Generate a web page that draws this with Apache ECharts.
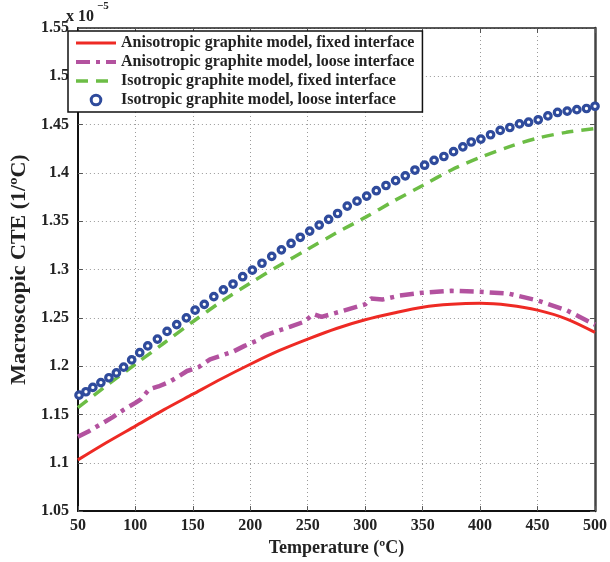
<!DOCTYPE html>
<html><head><meta charset="utf-8">
<script src="https://cdn.jsdelivr.net/npm/echarts@6/dist/echarts.min.js"></script>
<style>html,body{margin:0;padding:0;background:#fff}#c{width:610px;height:562px}</style>
</head><body><div id="c"></div>
<script>
// ---- data (CTE in units of 1e-5 /ºC) ----
const seriesNames = [
  'Anisotropic graphite model, fixed interface',
  'Anisotropic graphite model, loose interface',
  'Isotropic graphite model, fixed interface',
  'Isotropic graphite model, loose interface'
];
const aniFixedT = [50,75,100,125,150,175,200,225,250,275,300,325,350,375,400,425,450,475,500];
const aniFixedV = [1.103,1.121,1.138,1.155,1.171,1.187,1.202,1.216,1.228,1.239,1.248,1.255,1.261,1.264,1.265,1.263,1.258,1.249,1.235];

const aniLooseT = [50,60,70,80,90,100,105,112,120,130,137,145,155,165,175,185,195,205,213,225,235,247,255,262,280,300,305,315,330,350,375,400,425,450,475,500];
const aniLooseV = [1.127,1.133,1.140,1.147,1.155,1.162,1.166,1.176,1.179,1.184,1.189,1.195,1.199,1.207,1.211,1.215,1.221,1.226,1.232,1.237,1.241,1.246,1.254,1.251,1.257,1.264,1.270,1.269,1.273,1.276,1.278,1.277,1.275,1.268,1.258,1.243];

const isoFixedT = [50,75,100,125,150,175,200,225,250,275,300,325,350,375,400,425,450,475,500];
const isoFixedV = [1.157,1.180,1.202,1.224,1.246,1.267,1.286,1.304,1.321,1.338,1.354,1.371,1.387,1.403,1.416,1.427,1.436,1.442,1.446];

const isoLooseT = [51,57,63,70,77,83.5,89.8,96.8,103.8,110.8,119.2,127.6,136,144.4,152,160,168.3,176.6,185,193.4,201.8,210.2,218.7,227.1,235.5,243.5,251.7,260,268.2,276,284.4,292.9,301.3,309.7,318.1,326.5,334.9,343.3,351.7,360,368.5,376.9,385,392.3,400.7,409.1,417.5,425.9,434.3,442.2,450.6,459,467.4,475.8,484.2,492.6,500];
const isoLooseV = [1.170,1.1735,1.178,1.183,1.188,1.193,1.199,1.2065,1.214,1.221,1.228,1.236,1.243,1.250,1.258,1.264,1.272,1.279,1.285,1.2926,1.2994,1.3065,1.3137,1.3204,1.327,1.3334,1.3398,1.346,1.352,1.358,1.3657,1.3708,1.376,1.3816,1.387,1.392,1.397,1.403,1.408,1.413,1.417,1.422,1.427,1.432,1.435,1.4395,1.444,1.447,1.4507,1.4525,1.455,1.459,1.4626,1.464,1.4655,1.4667,1.469];

const xMin = 50, xMax = 500, xStep = 50;
const yMin = 1.05, yMax = 1.55, yStep = 0.05;
const xName = 'Temperature (ºC)';
const yName = 'Macroscopic CTE (1/ºC)';
const expBase = 'x 10', expPow = '−5';

const zip = (a, b) => a.map((v, i) => [v, b[i]]);
const FONT = "'Liberation Serif','Times New Roman',serif";
const fmtY = v => String(Math.round(v * 100) / 100);

const RED = '#ee2a24', MAG = '#b3529f', GRN = '#6cbd45', BLU = '#2f4b9c';
const MAG_DASH = [14, 6, 4, 6], GRN_DASH = [12, 8];

const chart = echarts.init(document.getElementById('c'), null, {renderer: 'canvas'});
const baseLabel = {fontFamily: FONT, fontWeight: 'bold', fontSize: 16, color: '#222'};
chart.setOption({
  animation: false,
  backgroundColor: '#fff',
  grid: {left: 66, right: 9, top: 28, bottom: 43, containLabel: false},
  xAxis: [{
    type: 'value', min: xMin, max: xMax, interval: xStep, position: 'bottom',
    axisLine: {onZero: false, lineStyle: {color: '#111', width: 2}},
    axisTick: {inside: true, length: 5, lineStyle: {color: '#555'}},
    axisLabel: Object.assign({margin: 7}, baseLabel),
    splitLine: {show: true, lineStyle: {color: '#9a9a9a', type: [1, 3], width: 1}},
    name: xName, nameLocation: 'middle', nameGap: 22,
    nameTextStyle: {fontFamily: FONT, fontWeight: 'bold', fontSize: 18, color: '#222', verticalAlign: 'top'}
  }, {
    type: 'value', min: xMin, max: xMax, interval: xStep, position: 'top',
    axisLine: {onZero: false, lineStyle: {color: '#222', width: 1.5}},
    axisTick: {inside: true, length: 5, lineStyle: {color: '#555'}},
    axisLabel: {show: false}, splitLine: {show: false}
  }],
  yAxis: [{
    type: 'value', min: yMin, max: yMax, interval: yStep, position: 'left',
    axisLine: {onZero: false, lineStyle: {color: '#111', width: 2}},
    axisTick: {inside: true, length: 5, lineStyle: {color: '#555'}},
    axisLabel: Object.assign({margin: 9, formatter: fmtY}, baseLabel),
    splitLine: {show: true, lineStyle: {color: '#9a9a9a', type: [1, 3], width: 1}},
    name: yName, nameLocation: 'middle', nameGap: 41, nameRotate: 90,
    nameTextStyle: {fontFamily: FONT, fontWeight: 'bold', fontSize: 22, color: '#222'}
  }, {
    type: 'value', min: yMin, max: yMax, interval: yStep, position: 'right',
    axisLine: {onZero: false, lineStyle: {color: '#444', width: 2.5}},
    axisTick: {inside: true, length: 5, lineStyle: {color: '#555'}},
    axisLabel: {show: false}, splitLine: {show: false}
  }],
  legend: {
    orient: 'vertical', left: 68, top: 31,
    padding: [4, 8, 4, 6], itemGap: 3, itemWidth: 40, itemHeight: 12,
    backgroundColor: '#fff', borderColor: '#111', borderWidth: 1.5,
    textStyle: {fontFamily: FONT, fontWeight: 'bold', fontSize: 16, color: '#222'},
    data: [
      {name: seriesNames[0], itemStyle: {opacity: 0}, lineStyle: {width: 3, color: RED}},
      {name: seriesNames[1], itemStyle: {opacity: 0}, lineStyle: {width: 4, color: MAG, type: MAG_DASH}},
      {name: seriesNames[2], itemStyle: {opacity: 0}, lineStyle: {width: 3.5, color: GRN, type: GRN_DASH}},
      {name: seriesNames[3], itemStyle: {color: '#fff', borderColor: BLU, borderWidth: 3}, lineStyle: {width: 0, opacity: 0}}
    ]
  },
  graphic: [{
    type: 'text', left: 66, top: 9,
    style: {text: expBase, font: "bold 16px 'Liberation Serif', serif", fill: '#222'}
  }, {
    type: 'text', left: 97, top: 1,
    style: {text: expPow, font: "bold 11px 'Liberation Serif', serif", fill: '#222'}
  }],
  series: [{
    name: seriesNames[0], type: 'line', symbol: 'none', smooth: 0.3, z: 3,
    data: zip(aniFixedT, aniFixedV),
    lineStyle: {color: RED, width: 3}, itemStyle: {color: RED}
  }, {
    name: seriesNames[1], type: 'line', symbol: 'none', z: 3,
    data: zip(aniLooseT, aniLooseV),
    lineStyle: {color: MAG, width: 4.5, type: MAG_DASH}, itemStyle: {color: MAG}
  }, {
    name: seriesNames[2], type: 'line', symbol: 'none', smooth: 0.3, z: 3,
    data: zip(isoFixedT, isoFixedV),
    lineStyle: {color: GRN, width: 3.5, type: GRN_DASH}, itemStyle: {color: GRN}
  }, {
    name: seriesNames[3], type: 'line', symbol: 'circle', symbolSize: 6.5, showSymbol: true, z: 4,
    data: zip(isoLooseT, isoLooseV),
    lineStyle: {width: 0, opacity: 0},
    itemStyle: {color: '#fff', borderColor: BLU, borderWidth: 3.2}
  }]
});
</script>
</body></html>
